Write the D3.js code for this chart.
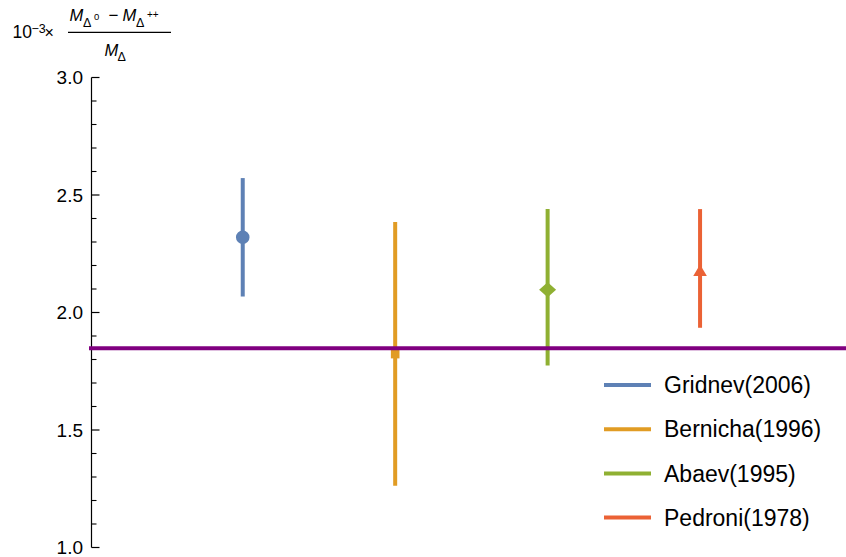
<!DOCTYPE html>
<html>
<head>
<meta charset="utf-8">
<script src="https://cdn.jsdelivr.net/npm/d3@7"></script>
<style>
  html, body { margin: 0; padding: 0; background: #fff; }
  svg { display: block; }
  svg text { font-family: "Liberation Sans", Arial, Helvetica, sans-serif; }
</style>
</head>
<body>
<svg id="chart" width="846" height="557"></svg>
<script>
// Measurements of the Delta mass splitting (units of 1e-3)
const experiments = ["Gridnev(2006)", "Bernicha(1996)", "Abaev(1995)", "Pedroni(1978)"];
const positions   = [1, 2, 3, 4];
const centralVals = [2.32, 1.823, 2.097, 2.175];
const lowerVals   = [2.068, 1.263, 1.775, 1.935];
const upperVals   = [2.572, 2.385, 2.44, 2.44];
const markerKinds = ["circle", "square", "diamond", "triangle"];
const colors      = ["#5E81B5", "#E19C24", "#8FB032", "#EB6235"];
const referenceValue = 1.848;
const majorTicks = [1.0, 1.5, 2.0, 2.5, 3.0];

const svg = d3.select("#chart");
const width = 846;

const x = d3.scaleLinear().domain([0, 5]).range([90.3, 852.5]);
const y = d3.scaleLinear().domain([1, 3]).range([547.5, 77.5]);
const axisX = 91.5;

// Vertical axis with inward-pointing major and minor ticks
const gAxis = svg.append("g");
gAxis.append("line")
  .attr("x1", axisX).attr("x2", axisX)
  .attr("y1", y(1)).attr("y2", y(3))
  .attr("stroke", "#000").attr("stroke-width", 1.2);

const minorTicks = d3.range(10, 31).map(v => v / 10).filter(v => !majorTicks.some(m => Math.abs(m - v) < 1e-9));
gAxis.selectAll("line.minor").data(minorTicks).join("line")
  .attr("class", "minor")
  .attr("x1", axisX).attr("x2", axisX + 5)
  .attr("y1", d => y(d)).attr("y2", d => y(d))
  .attr("stroke", "#000").attr("stroke-width", 1.1);
gAxis.selectAll("line.major").data(majorTicks).join("line")
  .attr("class", "major")
  .attr("x1", axisX).attr("x2", axisX + 8)
  .attr("y1", d => y(d)).attr("y2", d => y(d))
  .attr("stroke", "#000").attr("stroke-width", 1.2);
gAxis.selectAll("text.tl").data(majorTicks).join("text")
  .attr("class", "tl")
  .attr("x", axisX - 8.5)
  .attr("y", d => y(d))
  .attr("dy", "0.36em")
  .attr("text-anchor", "end")
  .attr("font-size", 19)
  .attr("fill", "#000")
  .text(d => d3.format(".1f")(d));

// Axis label: 10^-3 x (M_{Δ0} - M_{Δ++}) / M_Δ, placed piece by piece
const labelPieces = [
  { t: "10",      x: 12.5,  y: 37.5, s: 17.5 },
  { t: "\u22123", x: 31.5,  y: 32.5, s: 12.5 },
  { t: "\u00d7",  x: 44.5,  y: 37.5, s: 16 },
  { t: "M",       x: 69.5,  y: 21,   s: 16.5, it: true },
  { t: "\u0394",  x: 83,    y: 26.5, s: 12.5 },
  { t: "0",       x: 94,    y: 19.5, s: 9.5 },
  { t: "\u2212",  x: 108.5, y: 21,   s: 17 },
  { t: "M",       x: 122.5, y: 21,   s: 16.5, it: true },
  { t: "\u0394",  x: 136,   y: 26.5, s: 12.5 },
  { t: "++",      x: 147,   y: 17.5, s: 10 },
  { t: "M",       x: 104.5, y: 55.5, s: 16.5, it: true },
  { t: "\u0394",  x: 117.5, y: 61,   s: 12.5 }
];
const lab = svg.append("g").attr("fill", "#000");
lab.selectAll("text").data(labelPieces).join("text")
  .attr("x", d => d.x).attr("y", d => d.y)
  .attr("font-size", d => d.s)
  .attr("font-style", d => d.it ? "italic" : "normal")
  .text(d => d.t);
lab.append("line").attr("x1", 68).attr("x2", 171).attr("y1", 32.3).attr("y2", 32.3)
  .attr("stroke", "#000").attr("stroke-width", 1.2);

// Error bars
const gBars = svg.append("g");
gBars.selectAll("line").data(d3.range(experiments.length)).join("line")
  .attr("x1", i => x(positions[i])).attr("x2", i => x(positions[i]))
  .attr("y1", i => y(lowerVals[i])).attr("y2", i => y(upperVals[i]))
  .attr("stroke", i => colors[i]).attr("stroke-width", 4);

// Point markers
function markerPath(kind) {
  if (kind === "circle") return d3.symbol(d3.symbolCircle, Math.PI * 6.8 * 6.8)();
  if (kind === "square") return d3.symbol(d3.symbolSquare, 8.6 * 8.6)();
  if (kind === "diamond") return "M0,-7.5L8.5,0L0,7.5L-8.5,0Z";
  if (kind === "triangle") return "M0,-7L6.8,4.6L-6.8,4.6Z";
}
svg.append("g").selectAll("path").data(d3.range(experiments.length)).join("path")
  .attr("transform", i => `translate(${x(positions[i])},${y(centralVals[i])})`)
  .attr("d", i => markerPath(markerKinds[i]))
  .attr("fill", i => colors[i]);

// Reference value line
svg.append("line")
  .attr("x1", 89).attr("x2", width)
  .attr("y1", y(referenceValue)).attr("y2", y(referenceValue))
  .attr("stroke", "#800080").attr("stroke-width", 4);

// Legend
const legend = svg.append("g");
const rows = legend.selectAll("g").data(d3.range(experiments.length)).join("g")
  .attr("transform", i => `translate(604,${385 + i * 44.2})`);
rows.append("line").attr("x1", 0).attr("x2", 47).attr("y1", 0).attr("y2", 0)
  .attr("stroke", i => colors[i]).attr("stroke-width", 4);
rows.append("text").attr("x", 60).attr("y", 0).attr("dy", "0.36em")
  .attr("font-size", 23).attr("fill", "#000")
  .text(i => experiments[i]);
</script>
</body>
</html>
